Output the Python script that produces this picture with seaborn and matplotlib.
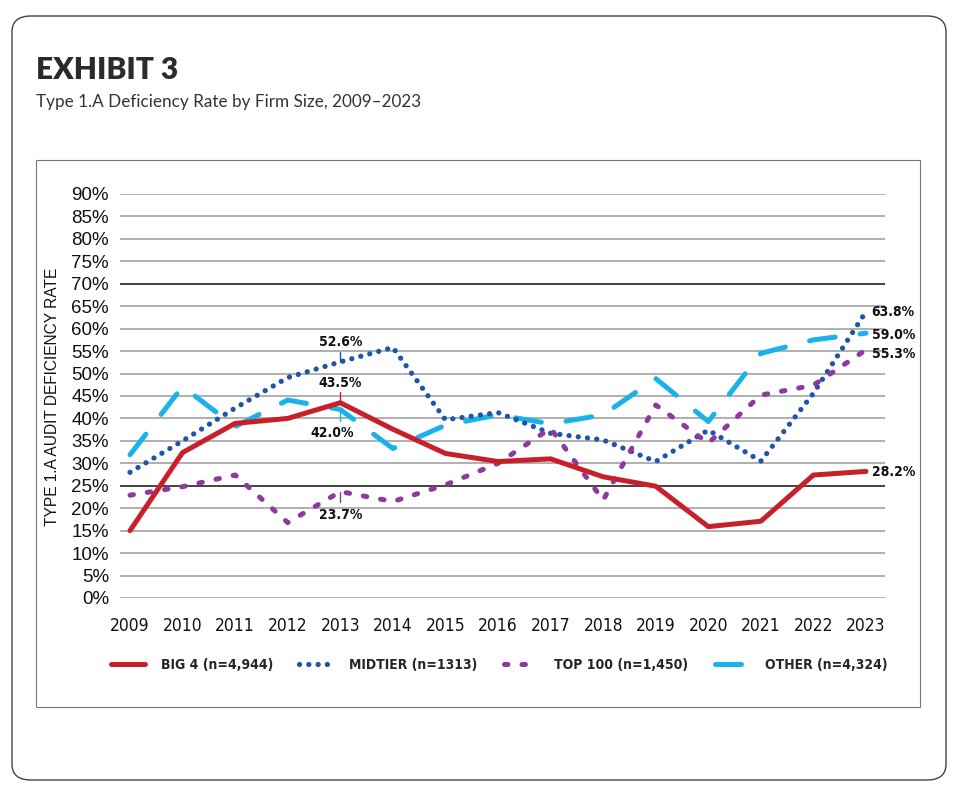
import numpy as np
import pandas as pd
import seaborn as sns
import matplotlib.pyplot as plt
from matplotlib.patches import FancyBboxPatch, Rectangle

years = list(range(2009, 2024))
big4 = [15.0, 32.4, 38.9, 40.0, 43.5, 37.6, 32.2, 30.4, 31.0, 27.0, 24.9, 15.9, 17.1, 27.4, 28.2]
midtier = [28.0, 35.0, 42.3, 49.1, 52.6, 55.8, 39.7, 41.3, 36.7, 35.2, 30.4, 37.4, 30.5, 45.6, 63.8]
top100 = [22.9, 24.8, 27.4, 16.8, 23.7, 21.5, 25.2, 30.0, 37.8, 21.8, 43.0, 34.5, 45.2, 47.4, 55.3]
other = [31.9, 47.1, 38.2, 44.1, 42.0, 33.3, 38.5, 40.8, 38.8, 40.8, 48.9, 39.3, 54.5, 57.5, 59.0]

labels = ['BIG 4 (n=4,944)', 'MIDTIER (n=1313)', 'TOP 100 (n=1,450)', 'OTHER (n=4,324)']
yticks = list(range(0, 95, 5))

df = pd.DataFrame({'Year': years, 'BIG 4': big4, 'MIDTIER': midtier,
                   'TOP 100': top100, 'OTHER': other})

sns.set_style('white')
narrow = ['DejaVu Sans Condensed', 'Liberation Sans Narrow', 'DejaVu Sans']
plt.rcParams['font.family'] = ['Liberation Sans', 'DejaVu Sans']

W, H = 954, 792
fig = plt.figure(figsize=(W / 100, H / 100), dpi=100)

# card border and inner chart box
card = FancyBboxPatch((12 / W, 1 - 780 / H), 934 / W, 764 / H,
                      boxstyle='round,pad=0,rounding_size=0.02',
                      transform=fig.transFigure, fill=False, ec='#444444', lw=1.0)
fig.patches.append(card)
box = Rectangle((36 / W, 1 - 707 / H), 884 / W, 547 / H, transform=fig.transFigure,
                fill=False, ec='#777777', lw=0.8)
fig.patches.append(box)

fig.text(36 / W, 1 - 70 / H, 'EXHIBIT 3', fontsize=21.5, fontweight='heavy',
         family=['Lato', 'DejaVu Sans'], color='#2b2b2b', va='center')
fig.text(36 / W, 1 - 102 / H, 'Type 1.A Deficiency Rate by Firm Size, 2009\u20132023',
         fontsize=12.3, family=['Lato', 'DejaVu Sans'], color='#333333', va='center')

ax = fig.add_axes([120 / W, (H - 598) / H, 765 / W, 404 / H])
ax.set_xlim(2009 - 10 / 52.6, 2023 + 19 / 52.6)
ax.set_ylim(0, 90)

for t in yticks:
    c = '#111111' if t in (25, 70) else '#9a9a9a'
    ax.axhline(t, color=c, lw=1.1, zorder=0)

sns.lineplot(data=df, x='Year', y='BIG 4', ax=ax, color='#c8202a', lw=3.6,
             label=labels[0], solid_capstyle='round', solid_joinstyle='round', zorder=4)
sns.lineplot(data=df, x='Year', y='MIDTIER', ax=ax, color='#1f55a8', lw=3.8,
             linestyle=(0, (0.01, 1.75)), dash_capstyle='round', label=labels[1], zorder=3)
sns.lineplot(data=df, x='Year', y='TOP 100', ax=ax, color='#8e3a9c', lw=3.6,
             linestyle=(0, (0.7, 2.8)), dash_capstyle='round', label=labels[2], zorder=3)
sns.lineplot(data=df, x='Year', y='OTHER', ax=ax, color='#19b2ea', lw=3.6,
             linestyle=(0, (5.2, 5.0)), dash_capstyle='round', label=labels[3], zorder=2)

for s in ax.spines.values():
    s.set_visible(False)
ax.set_xticks(years)
ax.set_xticklabels([str(y) for y in years], fontsize=12.5, family=narrow,
                   stretch='condensed', color='#111111')
ax.set_yticks(yticks)
ax.set_yticklabels([f'{t}%' for t in yticks], fontsize=13.5, color='#111111')
ax.tick_params(axis='x', length=0, pad=14)
ax.tick_params(axis='y', length=0, pad=8)
ax.set_xlabel('')
ax.set_ylabel('')
fig.text(53 / W, 1 - 397 / H, 'TYPE 1.A AUDIT DEFICIENCY RATE', rotation=90,
         fontsize=11.2, color='#111111', ha='center', va='center')

# callouts at 2013
ann = dict(fontsize=10, fontweight='bold', family=narrow, stretch='condensed',
           color='#111111', textcoords='offset points', ha='center')
ax.annotate('52.6%', xy=(2013, 52.6), xytext=(0, 9), va='bottom', **ann)
ax.plot([2013, 2013], [52.6, 54.8], color='#1f55a8', lw=1, zorder=5)
ax.annotate('43.5%', xy=(2013, 43.5), xytext=(0, 9), va='bottom', **ann)
ax.plot([2013, 2013], [43.5, 46.0], color='#c8202a', lw=1, zorder=5)
ax.annotate('42.0%', xy=(2013, 42.0), xytext=(-6, -12), va='top', **ann)
ax.plot([2013, 2013], [42.0, 39.5], color='#19b2ea', lw=1, zorder=5)
ax.annotate('23.7%', xy=(2013, 23.7), xytext=(0, -12), va='top', **ann)
ax.plot([2013, 2013], [23.7, 21.4], color='#8e3a9c', lw=1, zorder=5)

# end labels
end_pos = [(midtier[-1], 63.8), (other[-1], 58.6), (top100[-1], 54.3), (big4[-1], 28.1)]
for val, ypos in end_pos:
    ax.annotate(f'{val:.1f}%', xy=(2023, ypos), xytext=(4, 0), textcoords='offset points',
                ha='left', va='center', fontsize=10, fontweight='bold', family=narrow,
                stretch='condensed', color='#111111', annotation_clip=False)

leg = ax.legend(loc='center', bbox_to_anchor=(499 / W, 1 - 665 / H),
                bbox_transform=fig.transFigure, ncol=4, frameon=False,
                handlelength=2.5, columnspacing=1.9, handletextpad=1.1)
for txt in leg.get_texts():
    txt.set_fontsize(10)
    txt.set_fontweight('bold')
    txt.set_family(narrow)
    txt.set_stretch('condensed')

fig.savefig('out.png', dpi=100)
